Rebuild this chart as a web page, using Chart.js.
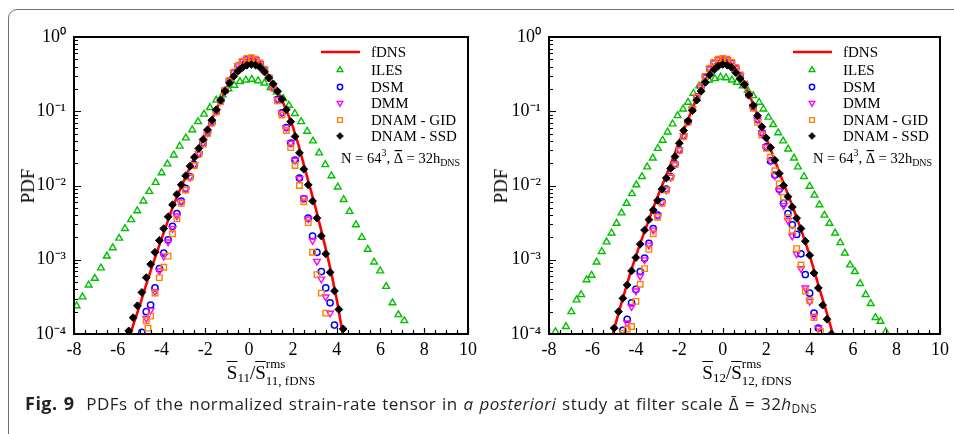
<!DOCTYPE html>
<html>
<head>
<meta charset="utf-8">
<script src="https://cdn.jsdelivr.net/npm/chart.js@4.4.1/dist/chart.umd.min.js"></script>
<style>
  html, body { margin:0; padding:0; background:#fff; }
  body { width:954px; height:434px; position:relative; overflow:hidden; }
  #frame { position:absolute; left:8px; top:9px; width:1100px; height:600px; border:1.5px solid #707070; border-radius:9px; box-sizing:border-box; }
  canvas { position:absolute; top:0; }
  #c1 { left:0; }
  #c2 { left:482px; }
  .t { position:absolute; font-family:"Liberation Serif","Times New Roman",serif; color:#000; white-space:nowrap; }
  .ylab { font-size:19px; transform:translate(-50%,-50%) rotate(-90deg); }
  .xlab { font-size:19px; transform:translateX(-50%); line-height:19px; }
  .ov { text-decoration:overline; text-decoration-thickness:1.3px; }
  .sb { font-size:13px; position:relative; top:3px; }
  .ss { display:inline-block; font-size:13px; line-height:17px; vertical-align:-6px; }
  .ss span { display:block; }
  #cap { position:absolute; left:25px; top:391px; font-family:"Open Sans",sans-serif; font-size:17px; color:#231f20; white-space:nowrap; letter-spacing:0.44px; word-spacing:1px; }
  #cap b { font-size:18px; letter-spacing:0.5px; word-spacing:1px; }
  #cap sub { font-size:12px; vertical-align:-3px; line-height:0; letter-spacing:0.3px; }
</style>
</head>
<body>
<div id="frame"></div>
<canvas id="c1" width="482" height="434"></canvas>
<canvas id="c2" width="472" height="434"></canvas>
<div class="t ylab" style="left:28px;top:186px">PDF</div>
<div class="t ylab" style="left:501px;top:186px">PDF</div>
<div class="t xlab" style="left:271px;top:355px"><span class="ov">S</span><span class="sb">11</span>/<span class="ov">S</span><span class="ss"><span>rms</span><span>11, fDNS</span></span></div>
<div class="t xlab" style="left:747px;top:355px"><span class="ov">S</span><span class="sb">12</span>/<span class="ov">S</span><span class="ss"><span>rms</span><span>12, fDNS</span></span></div>
<div id="cap"><b>Fig. 9</b>&nbsp; PDFs of the normalized strain-rate tensor in <i>a posteriori</i> study at filter scale Δ̄ = 32<i>h</i><sub>DNS</sub></div>
<script>
// ---------- names & tick labels ----------
const seriesNames = ['fDNS', 'ILES', 'DSM', 'DMM', 'DNAM - GID', 'DNAM - SSD'];
const yTickLabels = ['10⁻⁴', '10⁻³', '10⁻²', '10⁻¹', '10⁰'];
const xTickLabels = ['-8', '-6', '-4', '-2', '0', '2', '4', '6', '8', '10'];

// ---------- panel 1 : S11 ----------
const s11FdnsX = [-5.5,-5.25,-5.0,-4.75,-4.5,-4.25,-4.0,-3.75,-3.5,-3.25,-3.0,-2.75,-2.5,-2.25,-2.0,-1.75,-1.5,-1.25,-1.0,-0.75,-0.5,-0.25,0,0.25,0.5,0.75,1.0,1.25,1.5,1.75,2.0,2.25,2.5,2.75,3.0,3.25,3.5,3.75,4.0,4.25,4.5];
const s11FdnsY = [8.51e-5,1.45e-4,2.40e-4,4.17e-4,7.08e-4,1.17e-3,1.91e-3,3.09e-3,5.01e-3,7.59e-3,1.12e-2,1.66e-2,2.40e-2,3.47e-2,5.01e-2,7.24e-2,0.105,0.151,0.214,0.295,0.389,0.468,0.501,0.501,0.447,0.355,0.263,0.195,0.141,9.55e-2,6.17e-2,3.55e-2,1.91e-2,1.02e-2,5.50e-3,2.82e-3,1.41e-3,6.76e-4,2.95e-4,1.12e-4,4.27e-5];

const s11IlesX = [-7.88,-7.61,-7.33,-7.05,-6.77,-6.50,-6.23,-5.94,-5.67,-5.39,-5.11,-4.83,-4.56,-4.27,-4.00,-3.73,-3.44,-3.17,-2.89,-2.60,-2.33,-2.06,-1.79,-1.50,-1.21,-0.94,-0.68,-0.42,-0.15,0.12,0.41,0.70,0.98,1.26,1.56,1.82,2.09,2.38,2.65,2.92,3.20,3.48,3.76,4.05,4.32,4.59,4.88,5.15,5.42,5.71,5.99,6.26,6.55,6.82,7.09];
const s11IlesY = [2.40e-4,3.16e-4,4.57e-4,5.62e-4,7.76e-4,1.12e-3,1.45e-3,1.95e-3,2.63e-3,3.47e-3,4.57e-3,6.17e-3,8.32e-3,1.10e-2,1.48e-2,1.95e-2,2.57e-2,3.39e-2,4.37e-2,5.62e-2,7.24e-2,9.12e-2,0.112,0.141,0.166,0.200,0.224,0.251,0.263,0.269,0.257,0.240,0.209,0.182,0.148,0.120,0.0933,0.0724,0.0537,0.0398,0.0275,0.0191,0.0135,9.55e-3,6.46e-3,4.47e-3,2.95e-3,2.00e-3,1.38e-3,9.33e-4,7.08e-4,4.37e-4,2.63e-4,1.82e-4,1.51e-4];

const s11DsmX = [-4.9,-4.7,-4.5,-4.3,-4.1,-3.9,-3.7,-3.5,-3.3,-3.1,-2.9,-2.7,-2.5,-2.3,-2.1,-1.9,-1.7,-1.5,-1.3,-1.1,-0.9,-0.7,-0.5,-0.3,-0.1,0.1,0.3,0.5,0.7,0.9,1.1,1.3,1.5,1.7,1.9,2.1,2.3,2.5,2.7,2.9,3.1,3.3,3.5,3.7,3.9];
const s11DsmY = [1.05e-4,2.00e-4,2.45e-4,4.17e-4,7.59e-4,1.23e-3,1.86e-3,2.82e-3,4.17e-3,6.17e-3,9.12e-3,1.32e-2,1.91e-2,2.69e-2,3.72e-2,5.13e-2,7.08e-2,0.100,0.138,0.191,0.257,0.331,0.407,0.468,0.501,0.513,0.490,0.437,0.363,0.282,0.209,0.145,0.0955,0.0603,0.0372,0.0219,0.0126,6.61e-3,3.63e-3,2.09e-3,1.26e-3,6.92e-4,4.17e-4,2.63e-4,1.32e-4];

const s11DmmX = [-4.7,-4.5,-4.3,-4.1,-3.9,-3.7,-3.5,-3.3,-3.1,-2.9,-2.7,-2.5,-2.3,-2.1,-1.9,-1.7,-1.5,-1.3,-1.1,-0.9,-0.7,-0.5,-0.3,-0.1,0.1,0.3,0.5,0.7,0.9,1.1,1.3,1.5,1.7,1.9,2.1,2.3,2.5,2.7,2.9,3.1,3.3,3.5,3.7];
const s11DmmY = [1.62e-4,2.09e-4,3.72e-4,7.08e-4,1.12e-3,1.74e-3,2.63e-3,3.89e-3,6.03e-3,8.91e-3,1.30e-2,1.91e-2,2.69e-2,3.72e-2,5.13e-2,7.08e-2,0.100,0.138,0.191,0.257,0.331,0.410,0.470,0.505,0.515,0.495,0.440,0.365,0.285,0.209,0.145,0.0955,0.0603,0.0372,0.0219,0.0124,6.76e-3,3.55e-3,1.82e-3,9.55e-4,5.50e-4,3.16e-4,1.91e-4];

const s11GidX = [-4.7,-4.62,-4.5,-4.3,-4.1,-3.9,-3.7,-3.5,-3.3,-3.1,-2.9,-2.7,-2.5,-2.3,-2.1,-1.9,-1.7,-1.5,-1.3,-1.1,-0.9,-0.7,-0.5,-0.3,-0.1,0.1,0.3,0.5,0.7,0.9,1.1,1.3,1.5,1.7,1.9,2.1,2.3,2.5,2.7,2.9,3.1,3.3,3.5];
const s11GidY = [1.51e-4,1.20e-4,1.74e-4,3.55e-4,5.75e-4,7.94e-4,1.12e-3,2.24e-3,3.55e-3,5.75e-3,8.71e-3,1.29e-2,1.86e-2,2.63e-2,3.63e-2,5.01e-2,6.92e-2,9.77e-2,0.135,0.191,0.257,0.331,0.407,0.468,0.513,0.525,0.501,0.447,0.363,0.282,0.204,0.138,8.91e-2,5.50e-2,3.24e-2,1.86e-2,1.00e-2,6.03e-3,3.16e-3,1.26e-3,6.31e-4,3.55e-4,1.91e-4];

const s11SsdX = [-5.5,-5.3,-5.1,-4.9,-4.7,-4.5,-4.3,-4.1,-3.9,-3.7,-3.5,-3.3,-3.1,-2.9,-2.7,-2.5,-2.3,-2.1,-1.9,-1.7,-1.5,-1.3,-1.1,-0.9,-0.7,-0.5,-0.3,-0.1,0.1,0.3,0.5,0.7,0.9,1.1,1.3,1.5,1.7,1.9,2.1,2.3,2.5,2.7,2.9,3.1,3.3,3.5,3.7,3.9,4.1,4.3];
const s11SsdY = [1.10e-4,1.66e-4,2.40e-4,3.63e-4,5.75e-4,8.71e-4,1.26e-3,1.82e-3,2.63e-3,3.80e-3,5.50e-3,7.59e-3,1.02e-2,1.35e-2,1.82e-2,2.40e-2,3.16e-2,4.17e-2,5.62e-2,7.59e-2,0.105,0.141,0.186,0.240,0.295,0.347,0.389,0.417,0.427,0.417,0.389,0.339,0.282,0.234,0.186,0.145,0.105,7.24e-2,4.57e-2,2.75e-2,1.66e-2,1.02e-2,6.17e-3,3.63e-3,2.09e-3,1.20e-3,6.76e-4,3.80e-4,2.14e-4,1.17e-4];

// ---------- panel 2 : S12 ----------
const s12FdnsX = [-5.25,-5.0,-4.75,-4.5,-4.25,-4.0,-3.75,-3.5,-3.25,-3.0,-2.75,-2.5,-2.25,-2.0,-1.75,-1.5,-1.25,-1.0,-0.75,-0.5,-0.25,0,0.25,0.5,0.75,1.0,1.25,1.5,1.75,2.0,2.25,2.5,2.75,3.0,3.25,3.5,3.75,4.0,4.25,4.5,4.75,5.0,5.25];
const s12FdnsY = [6.31e-5,1.17e-4,2.14e-4,3.80e-4,6.76e-4,1.12e-3,1.82e-3,2.88e-3,4.57e-3,7.08e-3,1.07e-2,1.62e-2,2.51e-2,3.89e-2,6.03e-2,9.12e-2,0.138,0.200,0.282,0.380,0.468,0.501,0.479,0.407,0.316,0.234,0.158,0.105,6.76e-2,4.37e-2,2.82e-2,1.82e-2,1.17e-2,7.59e-3,4.90e-3,3.09e-3,1.91e-3,1.15e-3,6.46e-4,3.63e-4,2.09e-4,1.17e-4,6.31e-5];

const s12IlesX = [-7.70,-7.22,-6.97,-6.73,-6.52,-6.27,-6.04,-5.81,-5.57,-5.35,-5.12,-4.89,-4.66,-4.43,-4.18,-3.98,-3.72,-3.48,-3.22,-2.99,-2.77,-2.54,-2.31,-2.08,-1.83,-1.60,-1.35,-1.09,-0.87,-0.64,-0.36,-0.10,0.15,0.42,0.65,0.92,1.15,1.40,1.67,1.87,2.10,2.32,2.55,2.78,3.01,3.28,3.46,3.74,4.00,4.22,4.45,4.68,4.91,5.17,5.41,5.62,5.86,6.08,6.32,6.58,6.81,7.03,7.26,7.50];
const s12IlesY = [1.07e-4,1.26e-4,2.00e-4,2.88e-4,3.39e-4,5.37e-4,6.17e-4,9.33e-4,1.29e-3,1.74e-3,2.29e-3,3.09e-3,4.27e-3,5.75e-3,7.76e-3,1.02e-2,1.32e-2,1.78e-2,2.34e-2,3.16e-2,4.07e-2,5.25e-2,6.76e-2,8.71e-2,0.107,0.132,0.174,0.219,0.251,0.263,0.275,0.288,0.282,0.263,0.245,0.219,0.191,0.162,0.132,0.107,8.32e-2,6.61e-2,5.13e-2,3.98e-2,3.09e-2,2.34e-2,1.78e-2,1.32e-2,9.77e-3,7.41e-3,5.50e-3,3.98e-3,3.09e-3,2.29e-3,1.70e-3,1.23e-3,8.51e-4,6.92e-4,4.79e-4,3.39e-4,2.57e-4,1.66e-4,1.48e-4,1.07e-4];

const s12DsmX = [-4.6,-4.4,-4.2,-4.0,-3.8,-3.6,-3.4,-3.2,-3.0,-2.8,-2.6,-2.4,-2.2,-2.0,-1.8,-1.6,-1.4,-1.2,-1.0,-0.8,-0.6,-0.4,-0.2,0,0.2,0.4,0.6,0.8,1.0,1.2,1.4,1.6,1.8,2.0,2.2,2.4,2.6,2.8,3.0,3.2,3.4,3.6,3.8,4.0,4.2,4.4];
const s12DsmY = [1.12e-4,1.58e-4,2.63e-4,3.98e-4,6.92e-4,1.05e-3,1.66e-3,2.63e-3,3.98e-3,6.03e-3,8.91e-3,1.32e-2,1.95e-2,3.02e-2,4.68e-2,7.24e-2,0.107,0.155,0.214,0.288,0.372,0.447,0.490,0.501,0.490,0.447,0.380,0.302,0.229,0.166,0.115,7.76e-2,5.13e-2,3.31e-2,2.14e-2,1.38e-2,8.91e-3,5.75e-3,4.17e-3,2.95e-3,2.19e-3,1.20e-3,6.31e-4,3.55e-4,1.91e-4,1.20e-4];

const s12DmmX = [-4.4,-4.2,-4.0,-3.8,-3.6,-3.4,-3.2,-3.0,-2.8,-2.6,-2.4,-2.2,-2.0,-1.8,-1.6,-1.4,-1.2,-1.0,-0.8,-0.6,-0.4,-0.2,0,0.2,0.4,0.6,0.8,1.0,1.2,1.4,1.6,1.8,2.0,2.2,2.4,2.6,2.8,3.0,3.2,3.4,3.6,3.8,4.0,4.2,4.4];
const s12DmmY = [1.41e-4,2.34e-4,3.80e-4,6.03e-4,1.00e-3,1.58e-3,2.51e-3,3.89e-3,5.89e-3,8.71e-3,1.29e-2,1.91e-2,3.02e-2,4.68e-2,7.24e-2,0.107,0.155,0.214,0.288,0.372,0.450,0.495,0.505,0.493,0.450,0.380,0.302,0.229,0.166,0.115,7.76e-2,5.13e-2,3.31e-2,2.14e-2,1.35e-2,8.51e-3,5.37e-3,3.39e-3,2.09e-3,1.20e-3,7.59e-4,4.17e-4,2.75e-4,1.74e-4,1.20e-4];

const s12GidX = [-4.6,-4.4,-4.2,-4.0,-3.8,-3.6,-3.4,-3.2,-3.0,-2.8,-2.6,-2.4,-2.2,-2.0,-1.8,-1.6,-1.4,-1.2,-1.0,-0.8,-0.6,-0.4,-0.2,0,0.2,0.4,0.6,0.8,1.0,1.2,1.4,1.6,1.8,2.0,2.2,2.4,2.6,2.8,3.0,3.2,3.4,3.6,3.8,4.0,4.2,4.5];
const s12GidY = [1.02e-4,1.17e-4,1.26e-4,2.75e-4,4.68e-4,7.59e-4,1.38e-3,2.24e-3,3.72e-3,5.75e-3,8.71e-3,1.29e-2,1.91e-2,2.95e-2,4.57e-2,7.08e-2,0.107,0.155,0.219,0.295,0.380,0.457,0.501,0.513,0.501,0.457,0.389,0.309,0.234,0.166,0.110,7.08e-2,4.79e-2,3.16e-2,2.40e-2,1.58e-2,1.05e-2,6.92e-3,3.72e-3,2.51e-3,1.41e-3,8.51e-4,3.80e-4,2.82e-4,1.66e-4,1.07e-4];

const s12SsdX = [-5.0,-4.8,-4.6,-4.4,-4.2,-4.0,-3.8,-3.6,-3.4,-3.2,-3.0,-2.8,-2.6,-2.4,-2.2,-2.0,-1.8,-1.6,-1.4,-1.2,-1.0,-0.8,-0.6,-0.4,-0.2,0,0.2,0.4,0.6,0.8,1.0,1.2,1.4,1.6,1.8,2.0,2.2,2.4,2.6,2.8,3.0,3.2,3.4,3.6,3.8,4.0,4.2,4.4,4.6,4.8,5.0];
const s12SsdY = [1.20e-4,2.00e-4,3.02e-4,4.57e-4,7.08e-4,1.07e-3,1.62e-3,2.51e-3,3.47e-3,4.68e-3,6.31e-3,8.91e-3,1.26e-2,1.70e-2,2.45e-2,3.72e-2,5.50e-2,7.41e-2,0.102,0.141,0.186,0.245,0.309,0.363,0.407,0.427,0.417,0.389,0.331,0.275,0.229,0.166,0.120,8.71e-2,6.17e-2,4.37e-2,3.24e-2,2.19e-2,1.45e-2,1.00e-2,7.08e-3,5.13e-3,3.63e-3,2.63e-3,1.78e-3,1.15e-3,6.61e-4,4.17e-4,2.45e-4,1.58e-4,1.00e-4];

// ---------- styles (not data) ----------
const seriesStyles = [
  { line: true, color: '#ff0000', width: 2.6 },
  { pointStyle: 'triangle', color: '#00c000', radius: 3.9, rotation: 0, fill: false, bw: 1.4 },
  { pointStyle: 'circle', color: '#0000ff', radius: 3.1, rotation: 0, fill: false, bw: 1.5 },
  { pointStyle: 'triangle', color: '#ff00ff', radius: 3.8, rotation: 180, fill: false, bw: 1.4 },
  { pointStyle: 'rect', color: '#ff8000', radius: 3.9, rotation: 0, fill: false, bw: 1.4 },
  { pointStyle: 'rectRot', color: '#000000', radius: 3.9, rotation: 0, fill: true, bw: 1 }
];

function pts(xs, ys) { return xs.map((x, i) => ({ x: x, y: ys[i] })); }

function makeDatasets(series) {
  return series.map((s, i) => {
    const st = seriesStyles[i];
    if (st.line) {
      return { label: seriesNames[i], data: pts(s[0], s[1]), showLine: true, borderColor: st.color,
               borderWidth: st.width, pointRadius: 0, tension: 0, order: 10 };
    }
    return { label: seriesNames[i], data: pts(s[0], s[1]), showLine: false,
             pointStyle: st.pointStyle, pointRadius: st.radius, pointRotation: st.rotation,
             pointBorderColor: st.color, pointBackgroundColor: st.fill ? st.color : 'rgba(0,0,0,0)',
             borderColor: st.color, backgroundColor: st.fill ? st.color : 'rgba(0,0,0,0)',
             pointBorderWidth: st.bw, pointHoverRadius: st.radius, order: 10 - i };
  });
}

const legendRows = [15, 33, 50, 66, 83, 99];

const framePlugin = {
  id: 'framePlugin',
  afterDatasetsDraw(chart) {
    const ctx = chart.ctx, a = chart.chartArea, xs = chart.scales.x, ys = chart.scales.y;
    ctx.save();
    // frame
    ctx.strokeStyle = '#000'; ctx.lineWidth = 2;
    ctx.strokeRect(a.left, a.top, a.right - a.left, a.bottom - a.top);
    // inward ticks
    ctx.lineWidth = 1.2;
    ctx.beginPath();
    for (let k = 0; k <= 36; k++) {
      const v = xs.min + k * 0.5;
      const px = Math.round(xs.getPixelForValue(v)) + 0.5;
      const len = (k % 4 === 0) ? 6 : 4;
      ctx.moveTo(px, a.bottom); ctx.lineTo(px, a.bottom - len);
    }
    for (let e = -4; e < 0; e++) {
      for (let m = 1; m < 10; m++) {
        const py = Math.round(ys.getPixelForValue(m * Math.pow(10, e))) + 0.5;
        const len = m === 1 ? 7 : 4;
        ctx.moveTo(a.left, py); ctx.lineTo(a.left + len, py);
      }
    }
    ctx.stroke();
    // legend
    const R = a.right, T = a.top;
    ctx.textBaseline = 'middle'; ctx.textAlign = 'left';
    ctx.font = '15px "Liberation Serif"';
    chart.data.datasets.forEach((ds, i) => {
      const st = seriesStyles[i];
      const y = T + legendRows[i];
      if (st.line) {
        ctx.strokeStyle = st.color; ctx.lineWidth = st.width;
        ctx.beginPath(); ctx.moveTo(R - 147, y); ctx.lineTo(R - 108, y); ctx.stroke();
      } else {
        ctx.strokeStyle = st.color; ctx.fillStyle = st.fill ? st.color : 'rgba(0,0,0,0)';
        ctx.lineWidth = st.bw;
        Chart.helpers.drawPoint(ctx, { pointStyle: st.pointStyle, rotation: st.rotation, radius: st.radius * 0.85, borderWidth: st.bw }, R - 128, y);
      }
      ctx.fillStyle = '#000';
      ctx.fillText(ds.label, R - 97, y + 1);
    });
    // annotation N = 64^3, Δ̄ = 32h_DNS
    ctx.textBaseline = 'alphabetic';
    ctx.fillStyle = '#000';
    const big = '14.5px "Liberation Serif"', small = '10px "Liberation Serif"';
    let cx = R - 127; const by = T + 126;
    const put = (txt, font, dy) => { ctx.font = font; ctx.fillText(txt, cx, by + dy); const w = ctx.measureText(txt).width; cx += w; return w; };
    put('N = 64', big, 0);
    put('3', small, -7);
    put(', ', big, 0);
    const dx = cx; const dw = put('Δ', big, 0);
    ctx.fillRect(dx + 1, by - 13, dw - 2, 1.2);
    put(' = 32h', big, 0);
    put('DNS', small, 3);
    ctx.restore();
  }
};

function makeChart(id, series, padRight, yWidth) {
  return new Chart(document.getElementById(id), {
    type: 'scatter',
    data: { datasets: makeDatasets(series) },
    options: {
      responsive: false, animation: false, events: [],
      layout: { padding: { top: 37, right: padRight, left: 0, bottom: 0 } },
      plugins: { legend: { display: false }, tooltip: { enabled: false } },
      scales: {
        x: {
          type: 'linear', min: -8, max: 10,
          afterFit(s) { s.height = 100; },
          grid: { display: false, drawTicks: false }, border: { display: false },
          ticks: { stepSize: 2, padding: 5, color: '#000', font: { family: '"Liberation Serif"', size: 18 },
                   callback: (v) => { const k = Math.round((v + 8) / 2); return xTickLabels[k] !== undefined ? xTickLabels[k] : ''; } }
        },
        y: {
          type: 'logarithmic', min: 1e-4, max: 1,
          afterFit(s) { s.width = yWidth; },
          grid: { display: false, drawTicks: false }, border: { display: false },
          ticks: { autoSkip: false, padding: 8, color: '#000', font: { family: '"Liberation Serif"', size: 18 },
                   callback: (v) => { const e = Math.round(Math.log10(v)); return Math.abs(v / Math.pow(10, e) - 1) < 1e-6 ? yTickLabels[e + 4] : ''; } }
        }
      }
    },
    plugins: [framePlugin]
  });
}

Chart.defaults.font.family = '"Liberation Serif", serif';

makeChart('c1', [[s11FdnsX, s11FdnsY], [s11IlesX, s11IlesY], [s11DsmX, s11DsmY], [s11DmmX, s11DmmY], [s11GidX, s11GidY], [s11SsdX, s11SsdY]], 12, 74);
makeChart('c2', [[s12FdnsX, s12FdnsY], [s12IlesX, s12IlesY], [s12DsmX, s12DsmY], [s12DmmX, s12DmmY], [s12GidX, s12GidY], [s12SsdX, s12SsdY]], 10, 67);
</script>
</body>
</html>
